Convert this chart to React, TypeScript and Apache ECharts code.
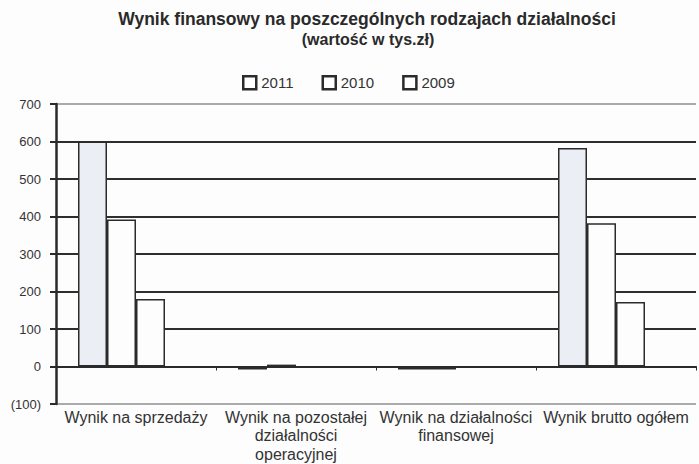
import React, { useEffect, useRef } from "react";
import * as echarts from "echarts";

const categories = [
  "Wynik na sprzedaży",
  "Wynik na pozostałej\ndziałalności\noperacyjnej",
  "Wynik na działalności\nfinansowej",
  "Wynik brutto ogółem",
];
const years = ["2011", "2010", "2009"];
const values2011 = [600, -8, -8, 583];
const values2010 = [392, 5, -8, 382];
const values2009 = [180, -3, -3, 172];

const App: React.FC = () => {
  const ref = useRef<HTMLDivElement>(null);
  useEffect(() => {
    document.body.style.margin = "0";
    if (!ref.current) return;
    const chart = echarts.init(ref.current, undefined, { renderer: "svg" });
    const font = "'Liberation Sans', Arial, sans-serif";
    const border = "#2b2b2b";
    const mk = (name: string, data: (number | null)[], fill: string) => ({
      name,
      type: "bar",
      data,
      barWidth: 29,
      barGap: "0%",
      itemStyle: { color: fill, borderColor: border, borderWidth: 1.5 },
      z: 3,
    });
    chart.setOption({
      animation: false,
      backgroundColor: "#fdfdfd",
      textStyle: { fontFamily: font },
      graphic: [
        {
          type: "text",
          x: 367,
          y: 10,
          style: {
            text: "Wynik finansowy na poszczególnych rodzajach działalności",
            font: `bold 17.5px ${font}`,
            fill: "#2a2a2a",
            textAlign: "center",
            textVerticalAlign: "top",
          },
        },
        {
          type: "text",
          x: 368,
          y: 31,
          style: {
            text: "(wartość w tys.zł)",
            font: `bold 16px ${font}`,
            fill: "#2a2a2a",
            textAlign: "center",
            textVerticalAlign: "top",
          },
        },
      ],
      legend: {
        data: years,
        top: 70,
        left: 237,
        itemWidth: 13,
        itemHeight: 13,
        itemGap: 28,
        icon: "rect",
        textStyle: { fontSize: 15, color: "#333", fontFamily: font },
        itemStyle: { color: "#fff", borderColor: border, borderWidth: 2.5 },
      },
      grid: { left: 56, right: 3, top: 104, bottom: 60, outerBoundsMode: "none", containLabel: false },
      xAxis: {
        type: "category",
        data: categories,
        axisLine: { onZero: true, lineStyle: { color: "#2a2a2a", width: 2 } },
        axisTick: { show: true, length: 4, lineStyle: { color: "#2a2a2a" } },
        axisLabel: {
          margin: 4,
          fontSize: 16,
          color: "#333",
          lineHeight: 18.5,
          interval: 0,
          fontFamily: font,
        },
      },
      yAxis: {
        type: "value",
        min: -100,
        max: 700,
        interval: 100,
        axisLine: { show: true, lineStyle: { color: "#2a2a2a", width: 2.5 } },
        axisTick: { show: true, length: 6, lineStyle: { color: "#2a2a2a", width: 2 } },
        axisLabel: {
          fontSize: 13,
          color: "#333",
          margin: 15,
          fontFamily: font,
          formatter: (v: number) => (v < 0 ? `(${-v})` : `${v}`),
        },
        splitLine: {
          show: true,
          lineStyle: {
            color: ["#aaaaaa", "#2e2e2e", "#2e2e2e", "#2e2e2e", "#2e2e2e", "#2e2e2e", "#2e2e2e", "#2e2e2e", "#aaaaaa"],
            width: 2,
          },
        },
      },
      series: [
        mk(years[0], values2011, "#eceef5"),
        mk(years[1], values2010, "#fdfdfe"),
        mk(years[2], values2009, "#fdfdfe"),
        { name: "_", type: "bar", data: [null, null, null, null], barWidth: 29, barGap: "0%" },
      ],
    });
    return () => chart.dispose();
  }, []);
  return <div ref={ref} style={{ width: 699, height: 464 }} />;
};

export default App;
